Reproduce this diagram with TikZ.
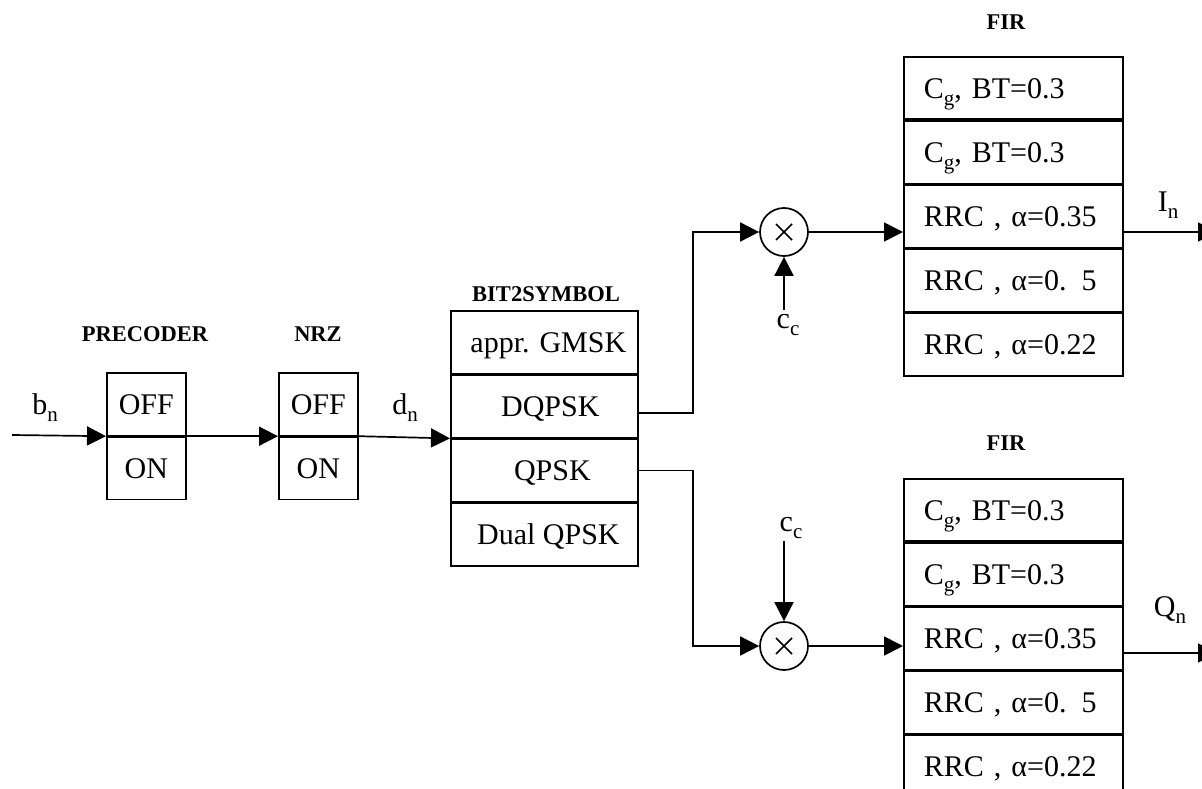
\documentclass[tikz,border=0pt]{standalone}
\usepackage{fontspec}
\setmainfont{Liberation Serif}
\usetikzlibrary{arrows.meta}
\newcommand{\mysub}[1]{\raisebox{-7pt}{\fontsize{21}{21}\selectfont #1}}
\tikzset{
  box/.style={draw, line width=1.7pt, inner sep=0pt, minimum height=62.5pt,
    text height=20pt, text depth=0pt, font=\fontsize{30}{30}\selectfont},
  prerow/.style={box, minimum width=79pt},
  bsrow/.style={box, minimum width=187pt},
  firrow/.style={box, minimum height=62.4pt, text width=179pt, align=left, inner xsep=20pt},
  lbl/.style={font=\fontsize{22.5}{22.5}\selectfont\bfseries, inner sep=0pt},
  sig/.style={font=\fontsize{30}{30}\selectfont, inner sep=2pt},
  arr/.style={line width=1.7pt, -{Triangle[length=19pt,width=19pt]}},
  mult/.style={draw, circle, line width=1.7pt, minimum size=48pt, inner sep=0pt,
    path picture={
      \draw[line width=1.5pt] ([shift={(-8pt,-8pt)}]path picture bounding box.center) -- ([shift={(8pt,8pt)}]path picture bounding box.center);
      \draw[line width=1.5pt] ([shift={(-8pt,8pt)}]path picture bounding box.center) -- ([shift={(8pt,-8pt)}]path picture bounding box.center);
    }}
}
\begin{document}
\begin{tikzpicture}[x=1pt, y=-1pt]
\useasboundingbox (0,0) rectangle (1202,789);

% PRECODER
\node[lbl] (lpre) at (145,334) {PRECODER};
\node[prerow, anchor=north west] (pre1) at (106,372) {OFF};
\node[prerow, anchor=north] (pre2) at (pre1.south) {ON};

% NRZ
\node[lbl] (lnrz) at (318,334) {NRZ};
\node[prerow, anchor=north west] (nrz1) at (278,372) {OFF};
\node[prerow, anchor=north] (nrz2) at (nrz1.south) {ON};

% BIT2SYMBOL
\node[lbl] (lbs) at (546,294) {BIT2SYMBOL};
\node[bsrow, anchor=north west] (bs1) at (450,310) {\hspace{8pt}appr. GMSK};
\node[bsrow, anchor=north] (bs2) at (bs1.south) {\hspace{12pt}DQPSK};
\node[bsrow, anchor=north] (bs3) at (bs2.south) {\hspace{16pt}QPSK};
\node[bsrow, anchor=north] (bs4) at (bs3.south) {\hspace{8pt}Dual QPSK};

% signal labels
\node[sig] (lbn) at (45,408) {b\mysub{n}};
\node[sig] (ldn) at (405,408) {d\mysub{n}};
\coordinate (bin) at (12,435);

\draw[arr] (bin) -- (pre1.south west);
\draw[arr] (pre1.south east) -- (nrz1.south west);
\draw[arr] (nrz1.south east) -- (bs2.south west);

% multipliers
\node[mult] (m1) at (784,232) {};
\node[mult] (m2) at (784,646) {};
\node[sig] (cc1) at (788,325) {c\mysub{c}};
\node[sig] (cc2) at (791,528) {c\mysub{c}};

\draw[arr] ([yshift=-7pt]bs2.east) -- ++(54,0) |- (m1.west);
\draw[arr] (bs3.east) -- ++(54,0) |- (m2.west);
\draw[arr] (cc1.north -| m1.south) ++(0,-2) -- (m1.south);
\draw[arr] (cc2.south -| m2.north) -- (m2.north);

% FIR top
\node[lbl] (lfir1) at (1006,22) {FIR};
\node[firrow, anchor=north west] (f1a) at (903,56) {C\mysub{g}, BT=0.3};
\node[firrow, anchor=north] (f1b) at (f1a.south) {C\mysub{g}, BT=0.3};
\node[firrow, anchor=north] (f1c) at (f1b.south) {RRC , α=0.35};
\node[firrow, anchor=north] (f1d) at (f1c.south) {RRC , α=0. 5};
\node[firrow, anchor=north] (f1e) at (f1d.south) {RRC , α=0.22};

% FIR bottom
\node[lbl] (lfir2) at (1006,443) {FIR};
\node[firrow, anchor=north west] (f2a) at (903,478) {C\mysub{g}, BT=0.3};
\node[firrow, anchor=north] (f2b) at (f2a.south) {C\mysub{g}, BT=0.3};
\node[firrow, anchor=north] (f2c) at (f2b.south) {RRC , α=0.35};
\node[firrow, anchor=north] (f2d) at (f2c.south) {RRC , α=0. 5};
\node[firrow, anchor=north] (f2e) at (f2d.south) {RRC , α=0.22};

\draw[arr] (m1.east) -- (m1.east -| f1c.west);
\draw[arr] (m2.east) -- (m2.east -| f2c.west);

% outputs
\coordinate (iout) at (1217,232);
\coordinate (qout) at (1217,653);
\draw[arr] (iout -| f1c.east) -- (iout);
\draw[arr] (qout -| f2c.east) -- (qout);
\node[sig] (lin) at (1168,205) {I\mysub{n}};
\node[sig] (lqn) at (1170,610) {Q\mysub{n}};
\end{tikzpicture}
\end{document}
